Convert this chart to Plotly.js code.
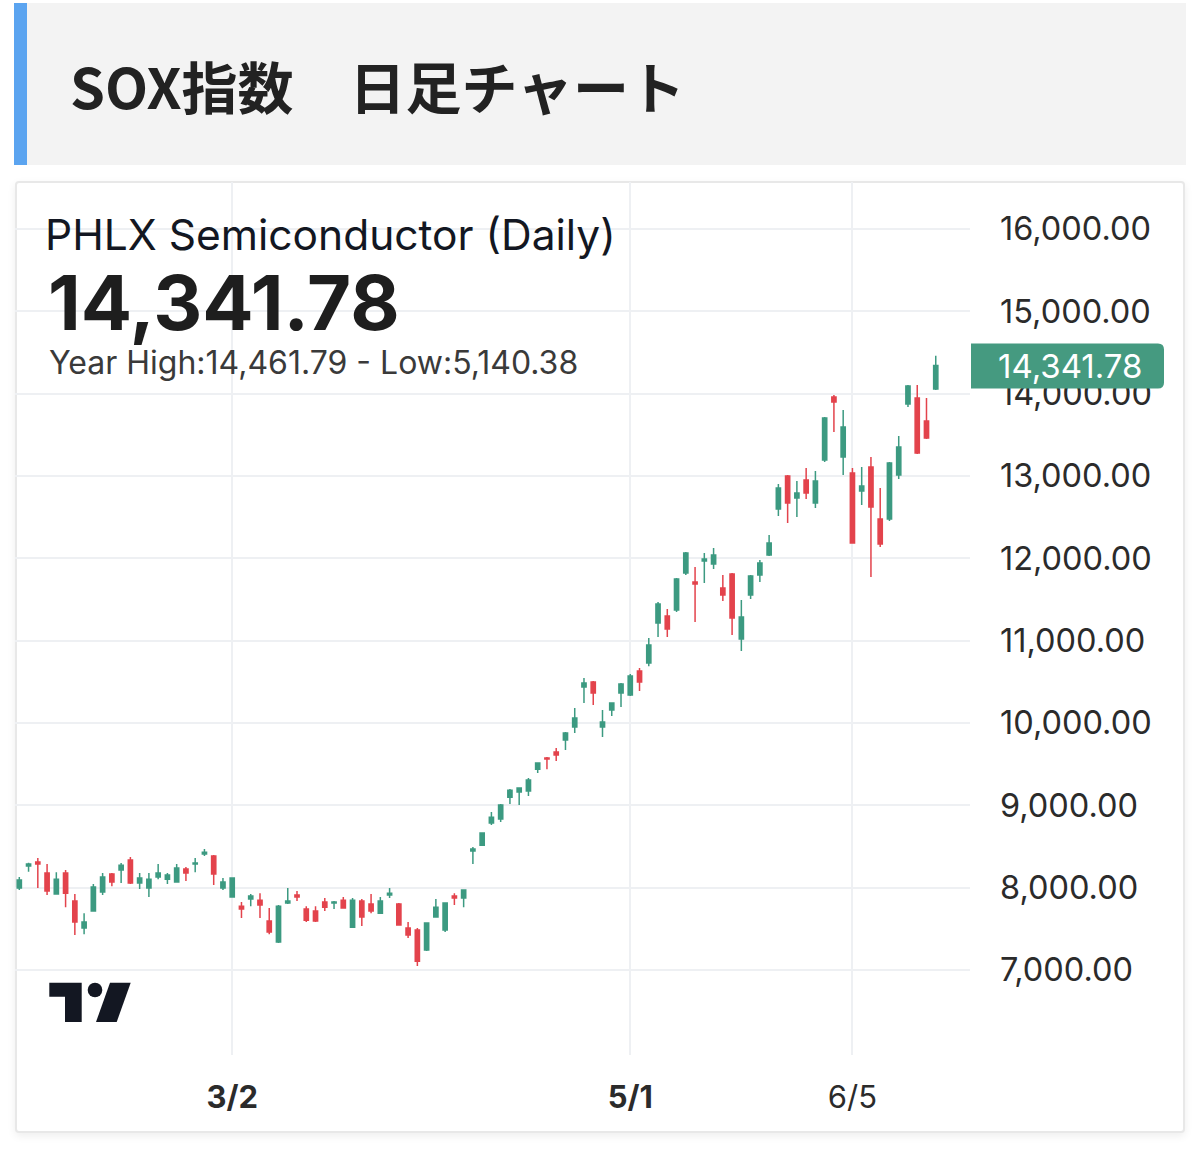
<!DOCTYPE html>
<html>
<head>
<meta charset="utf-8">
<script src="https://cdn.plot.ly/plotly-3.0.1.min.js"></script>
<style>
  html, body { margin:0; padding:0; background:#ffffff; }
  body { width:1200px; height:1171px; position:relative; overflow:hidden; }
  #header { position:absolute; left:14px; top:3px; width:1159px; height:162px; background:#f3f3f3; border-left:13px solid #5ba4f0; }
  #header span { position:absolute; left:43px; top:42px; font-family:"Noto Sans CJK JP", sans-serif; font-weight:700; font-size:56px; line-height:80px; color:#222222; white-space:pre; }
  #card { position:absolute; left:15px; top:181px; width:1166px; height:948px; background:#ffffff; border:2px solid #e8e8e8; border-radius:4px; box-shadow:0 3px 8px rgba(0,0,0,0.07); }
  #chart { position:absolute; left:0; top:0; width:1200px; height:1171px; }
  #logo { position:absolute; left:0; top:0; width:1200px; height:1171px; pointer-events:none; }
</style>
</head>
<body>
<div id="header"><span>SOX指数　日足チャート</span></div>
<div id="card"></div>
<div id="chart"></div>
<svg id="logo" viewBox="0 0 1200 1171">
  <path d="M49.3,982.7 H81.7 V1022 H65 V996.7 H49.3 Z" fill="#131722"/>
  <circle cx="95" cy="990" r="7.3" fill="#131722"/>
  <polygon points="110,982.7 130.7,982.7 116.7,1022 96,1022" fill="#131722"/>
</svg>
<script>
// ---- data ----
const dates = [
 "2026-01-27","2026-01-28","2026-01-29","2026-01-30","2026-02-02","2026-02-03","2026-02-04","2026-02-05","2026-02-06","2026-02-09",
 "2026-02-10","2026-02-11","2026-02-12","2026-02-13","2026-02-17","2026-02-18","2026-02-19","2026-02-20","2026-02-23","2026-02-24",
 "2026-02-25","2026-02-26","2026-02-27","2026-03-02","2026-03-03","2026-03-04","2026-03-05","2026-03-06","2026-03-09","2026-03-10",
 "2026-03-11","2026-03-12","2026-03-13","2026-03-16","2026-03-17","2026-03-18","2026-03-19","2026-03-20","2026-03-23","2026-03-24",
 "2026-03-25","2026-03-26","2026-03-27","2026-03-30","2026-03-31","2026-04-01","2026-04-02","2026-04-06","2026-04-07","2026-04-08",
 "2026-04-09","2026-04-10","2026-04-13","2026-04-14","2026-04-15","2026-04-16","2026-04-17","2026-04-20","2026-04-21","2026-04-22",
 "2026-04-23","2026-04-24","2026-04-27","2026-04-28","2026-04-29","2026-04-30","2026-05-01","2026-05-04","2026-05-05","2026-05-06",
 "2026-05-07","2026-05-08","2026-05-11","2026-05-12","2026-05-13","2026-05-14","2026-05-15","2026-05-18","2026-05-19","2026-05-20",
 "2026-05-21","2026-05-22","2026-05-26","2026-05-27","2026-05-28","2026-05-29","2026-06-01","2026-06-02","2026-06-03","2026-06-04",
 "2026-06-05","2026-06-08","2026-06-09","2026-06-10","2026-06-11","2026-06-12","2026-06-15","2026-06-16","2026-06-17","2026-06-18"
];
const openV = [
 7995,8262,8311,8177,7922,8177,7837,7509,7716,7947,
 8165,8214,8335,8056,7995,8129,8104,8068,8226,8287,
 8408,8384,7995,7886,7776,7862,7849,7594,7339,7813,
 7910,7740,7716,7825,7813,7849,7521,7837,7801,7691,
 7910,7801,7509,7485,7242,7643,7485,7898,7874,8445,
 8517,8785,8833,9100,9161,9173,9440,9574,9647,9793,
 9951,10437,10497,9951,10157,10364,10339,10631,10728,11214,
 11299,11372,11821,11712,11967,11930,11639,11809,11020,11554,
 11797,12040,12599,12999,12732,12951,12671,13194,13959,13230,
 13036,12817,13109,12477,12477,13011,13874,13947,13667,14056
];
const highV = [
 8129,8302,8360,8287,8189,8214,7922,7691,8044,8177,
 8177,8299,8372,8177,8177,8287,8177,8287,8250,8360,
 8469,8396,8117,8122,7825,7922,7934,7752,7789,7995,
 7959,7776,7776,7874,7837,7886,7874,7862,7922,7886,
 7995,7813,7582,7509,7575,7862,7818,7934,7975,8493,
 8668,8918,9015,9198,9215,9331,9525,9586,9696,9890,
 10181,10546,10510,10157,10248,10485,10595,10667,11032,11469,
 11384,11761,12076,11894,12064,12125,11797,11821,11493,11797,
 11979,12283,12902,13011,12939,13097,13060,13716,13983,13801,
 13097,13109,13230,12854,13170,13485,14104,14104,13947,14461.79
];
const lowV = [
 7971,8193,7995,7910,7915,7764,7424,7436,7710,7910,
 8019,8056,8044,7983,7886,8104,8044,8060,8080,8189,
 8384,8032,7971,7880,7631,7776,7631,7436,7327,7801,
 7837,7582,7582,7716,7740,7745,7515,7534,7691,7679,
 7874,7540,7388,7048,7230,7640,7461,7789,7764,8287,
 8505,8760,8797,9015,9003,9113,9392,9440,9538,9671,
 9878,10242,10218,9829,10084,10194,10328,10388,10690,11044,
 11044,11348,11797,11226,11700,11870,11481,11068,10874,11505,
 11712,12028,12514,12428,12502,12720,12611,13170,13534,13011,
 12180,12648,11773,12137,12453,12963,13838,13267,13449,14044
];
const closeV = [
 8092,8287,8287,7959,8104,7934,7582,7582,8007,8129,
 8068,8274,8056,8117,8104,8177,8153,8238,8177,8299,
 8432,8165,8068,8117,7740,7898,7789,7461,7776,7837,
 7886,7606,7594,7764,7825,7752,7849,7643,7716,7837,
 7934,7546,7424,7108,7570,7764,7813,7874,7971,8469,
 8663,8857,9003,9185,9210,9307,9513,9562,9611,9878,
 10060,10485,10364,10011,10242,10473,10570,10497,10947,11445,
 11141,11748,12064,11688,11991,12040,11554,11275,11287,11785,
 11943,12186,12854,12671,12793,12793,12939,13704,13898,13595,
 12186,12878,12623,12174,13157,13352,14092,13279,13461,14341.78
];
const xTickDates = ["2026-03-02","2026-05-01","2026-06-05"];
const xTickLabels = ["<b>3/2</b>","<b>5/1</b>","6/5"];
const yTickVals = [7000,8000,9000,10000,11000,12000,13000,14000,15000,16000];
const yTickLabels = ["7,000.00","8,000.00","9,000.00","10,000.00","11,000.00","12,000.00","13,000.00","14,000.00","15,000.00","16,000.00"];
const titleText = "PHLX Semiconductor (Daily)";
const lastText = "14,341.78";
const rangeText = "Year High:14,461.79 - Low:5,140.38";

// ---- styling ----
const UP = "#3c9a81", DOWN = "#e3434c", GRID = "#eef0f3";
const FONT = "Inter, 'Noto Sans', sans-serif";
const W = 1200, H = 1171;
const M = {l:15, r:230, t:182, b:116};
const pw = W - M.l - M.r, ph = H - M.t - M.b;
const yRange = [5968, 16571];
const px = x => (x - M.l) / pw;          // pixel -> paper x
const py = y => (H - M.b - y) / ph;      // pixel -> paper y
const lastClose = closeV[closeV.length - 1];
const lastPixY = M.t + (yRange[1] - lastClose) / (yRange[1] - yRange[0]) * ph;

const trace = {
  type: "candlestick",
  x: dates, open: openV, high: highV, low: lowV, close: closeV,
  increasing: {line: {color: UP, width: 1.5}, fillcolor: UP},
  decreasing: {line: {color: DOWN, width: 1.5}, fillcolor: DOWN},
  whiskerwidth: 0,
  hoverinfo: "skip"
};

const x0 = px(971), x1 = px(1164), yt = py(lastPixY - 22), yb = py(lastPixY + 23), r = 6;
const rx = r / pw, ry = r / ph;
const labelPath = `M${x0},${yt} L${x1 - rx},${yt} Q${x1},${yt} ${x1},${yt - ry} L${x1},${yb + ry} Q${x1},${yb} ${x1 - rx},${yb} L${x0},${yb} Z`;

const layout = {
  width: W, height: H,
  margin: M,
  paper_bgcolor: "rgba(0,0,0,0)",
  plot_bgcolor: "rgba(0,0,0,0)",
  showlegend: false,
  boxgap: 0.35,
  dragmode: false,
  xaxis: {
    type: "category",
    range: [-0.465, 102.7],
    tickmode: "array", tickvals: xTickDates, ticktext: xTickLabels,
    showgrid: true, gridcolor: GRID, gridwidth: 2,
    zeroline: false, showline: false, ticks: "",
    tickfont: {family: FONT, size: 31, color: "#2b2b2b"},
    ticklabelstandoff: 21,
    rangeslider: {visible: false},
    fixedrange: true
  },
  yaxis: {
    side: "right",
    range: yRange,
    tickmode: "array", tickvals: yTickVals, ticktext: yTickLabels,
    showgrid: true, gridcolor: GRID, gridwidth: 2,
    zeroline: false, showline: false, ticks: "",
    tickfont: {family: FONT, size: 32.5, color: "#2b2b2b"},
    ticklabelstandoff: 29,
    fixedrange: true
  },
  shapes: [
    {type: "path", xref: "paper", yref: "paper", path: labelPath, fillcolor: "#459a80", line: {width: 0}, layer: "above"}
  ],
  annotations: [
    {xref: "paper", yref: "paper", x: px(43), y: py(234), xanchor: "left", yanchor: "middle", showarrow: false,
     text: titleText, font: {family: FONT, size: 42.5, color: "#131722"}},
    {xref: "paper", yref: "paper", x: px(46), y: py(302), xanchor: "left", yanchor: "middle", showarrow: false,
     text: "<b>" + lastText + "</b>", font: {family: FONT, size: 76, color: "#1e1e1e"}},
    {xref: "paper", yref: "paper", x: px(47), y: py(362), xanchor: "left", yanchor: "middle", showarrow: false,
     text: rangeText, font: {family: FONT, size: 32, color: "#3a3a3a"}},
    {xref: "paper", yref: "paper", x: px(1070), y: py(lastPixY), xanchor: "center", yanchor: "middle", showarrow: false,
     text: lastText, font: {family: FONT, size: 33, color: "#ffffff"}}
  ]
};

Plotly.newPlot("chart", [trace], layout, {displayModeBar: false, staticPlot: true});
</script>
</body>
</html>
